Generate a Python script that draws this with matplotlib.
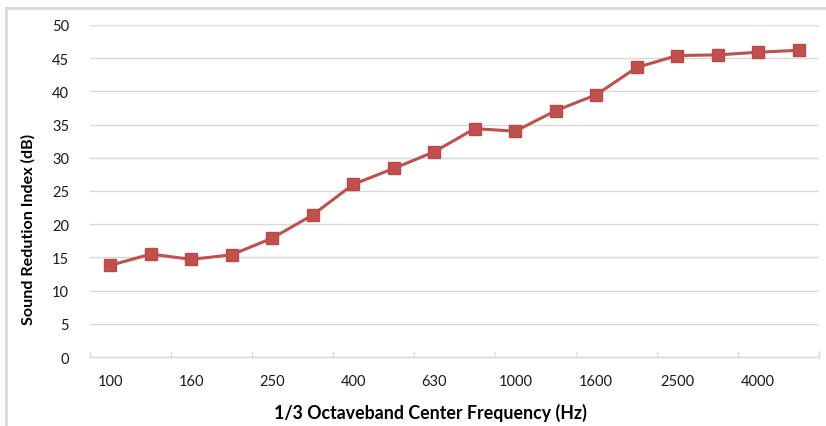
import matplotlib
matplotlib.use("Agg")
import matplotlib.pyplot as plt
from matplotlib.lines import Line2D
import numpy as np

freqs = ["100", "125", "160", "200", "250", "315", "400", "500", "630", "800",
         "1000", "1250", "1600", "2000", "2500", "3150", "4000", "5000"]
sri = [13.8, 15.5, 14.7, 15.4, 17.9, 21.4, 26.0, 28.4, 30.9, 34.4,
       34.0, 37.1, 39.5, 43.6, 45.4, 45.5, 45.9, 46.2]
yticks = [0, 5, 10, 15, 20, 25, 30, 35, 40, 45, 50]

plt.rcParams['font.family'] = ['Lato', 'DejaVu Sans']

fig = plt.figure(figsize=(8.26, 4.27), dpi=100)
W, H = 826, 427
ax = fig.add_axes([90 / W, 1 - 358 / H, (819 - 90) / W, (358 - 26) / H])

x = np.arange(len(freqs))
ax.plot(x, sri, color="#C0504D", lw=2.2, marker="s", markersize=9,
        markeredgecolor="#B84A47", markerfacecolor="#C0504D", zorder=3)

ax.set_xlim(-0.5, len(freqs) - 0.5)
ax.set_ylim(0, 50)
ax.set_yticks(yticks)
ax.set_yticklabels([str(v) for v in yticks], fontsize=10.5, color="#1a1a1a")
ax.yaxis.grid(True, color="#D9D9D9", lw=1)
ax.set_axisbelow(True)
ax.tick_params(axis="y", length=0, pad=15)

# category labels every other category
ax.set_xticks(x[::2])
ax.set_xticklabels([freqs[i] for i in range(0, len(freqs), 2)], fontsize=10.5, color="#1a1a1a")
ax.tick_params(axis="x", length=0, pad=12)
# tick marks at category boundaries every 2
for b in np.arange(-0.5, len(freqs), 2):
    ax.plot([b, b], [0, 0.75], color="#D9D9D9", lw=1, clip_on=False, zorder=1)
ax.plot([len(freqs) - 0.5] * 2, [0, 0.75], color="#D9D9D9", lw=1, clip_on=False, zorder=1)

for s in ["top", "right", "left"]:
    ax.spines[s].set_visible(False)
ax.spines["bottom"].set_color("#D9D9D9")
ax.spines["bottom"].set_linewidth(1)

fig.text(28 / W, 1 - 229 / H, "Sound Redution Index (dB)", fontsize=11.6, fontweight="bold",
         rotation=90, ha="center", va="center")
fig.text(430 / W, 1 - 413 / H, "1/3 Octaveband Center Frequency (Hz)", fontsize=12.8,
         fontweight="bold", ha="center", va="center")

# outer chart border (left and top)
fig.add_artist(Line2D([6 / W, 6 / W], [0, 1 - 9 / H], color="#D9D9D9", lw=2, transform=fig.transFigure))
fig.add_artist(Line2D([6 / W, 1], [1 - 9 / H, 1 - 9 / H], color="#D9D9D9", lw=2, transform=fig.transFigure))

fig.savefig("out.png", dpi=100)
